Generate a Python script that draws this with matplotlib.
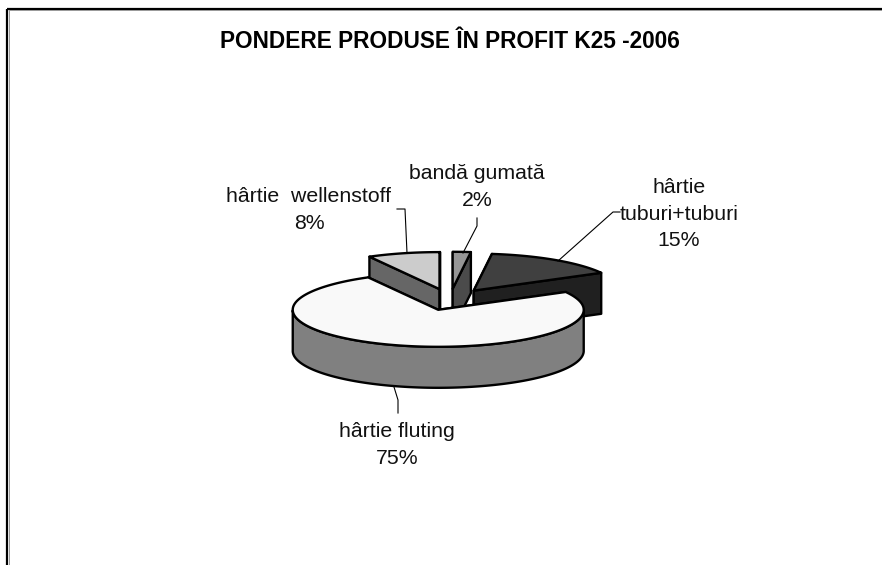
import numpy as np
import matplotlib
matplotlib.use("Agg")
import matplotlib.pyplot as plt
from matplotlib.patches import Polygon

plt.rcParams['font.family'] = ['Liberation Sans', 'DejaVu Sans']

title = "PONDERE PRODUSE ÎN PROFIT K25 -2006"
# Clockwise from 12 o'clock
categories = ["bandă gumată", "hârtie\ntuburi+tuburi", "hârtie fluting", "hârtie  wellenstoff"]
values = [2, 15, 75, 8]
top_colors = ["#969696", "#404040", "#F9F9F9", "#CCCCCC"]
side_colors = ["#4B4B4B", "#202020", "#808080", "#666666"]
label_pos = [(477, 187), (679, 214), (397, 445), (309, 210)]

CX, CY, RX, RY, DEPTH, EXPLODE = 450.0, 299.5, 145.5, 37.0, 41.0, 0.29

fig = plt.figure(figsize=(8.82, 5.65), dpi=100)
ax = fig.add_axes([0, 0, 1, 1])
ax.set_xlim(0, 882)
ax.set_ylim(565, 0)
ax.axis("off")


def pt(t, r=1.0):
    t = np.radians(t)
    return np.array([r * RX * np.cos(t), -r * RY * np.sin(t)])


def poly(points, color, z):
    ax.add_patch(Polygon(points, closed=True, facecolor=color, edgecolor="black",
                         linewidth=1.7, joinstyle="round", zorder=z))


# angular extents from the data
total = sum(values)
spans = []
a = 90.0
for v in values:
    b = a - 360.0 * v / total
    spans.append((a, b))
    a = b

# back-to-front painting order: tuburi, bandă, wellenstoff, fluting
order = [1, 0, 3, 2]
z = 2
D = np.array([0, DEPTH])
for i in order:
    start, end = spans[i]
    mid = (start + end) / 2
    apex = np.array([CX, CY]) + pt(mid, EXPLODE)
    ts = np.linspace(start, end, 240)
    arc = np.array([apex + pt(t) for t in ts])
    # cut faces
    for t in (start, end):
        c = apex + pt(t)
        poly([apex, c, c + D, apex + D], side_colors[i], z)
        z += 1
    # outer wall: the front part of the rim only
    s = np.sin(np.radians(ts))
    front = arc[s <= 0]
    if len(front):
        poly(np.vstack([front, (front + D)[::-1]]), side_colors[i], z)
        z += 1
    # top face
    poly(np.vstack([[apex], arc]), top_colors[i], z)
    z += 1

# leader lines
leaders = [
    [(477, 218), (477, 226), (463, 253)],
    [(620, 212), (613, 212), (558, 261)],
    [(394, 387), (398, 400), (398, 413)],
    [(397, 209), (405, 209), (407, 253)],
]
for pts in leaders:
    xs, ys = zip(*pts)
    ax.plot(xs, ys, color="black", lw=0.8, zorder=100)

# labels
for cat, v, (x, y) in zip(categories, values, label_pos):
    ax.text(x, y, f"{cat}\n{v}%", ha="center", va="center", fontsize=15.3,
            linespacing=1.5, color="#111111", zorder=101)

ax.text(450, 41, title, ha="center", va="center", fontsize=16.3,
        fontweight="bold", color="black")

# chart-area border (left and top only, the rest falls outside the crop)
ax.plot([7, 7], [8.5, 565], color="black", lw=1.6, solid_capstyle="butt")
ax.plot([7, 882], [8.5, 8.5], color="black", lw=1.6, solid_capstyle="butt")
ax.plot([8.5, 8.5], [10, 565], color="#999999", lw=0.7)
ax.plot([8.5, 882], [10, 10], color="#999999", lw=0.7)

fig.savefig("out.png", dpi=100)
